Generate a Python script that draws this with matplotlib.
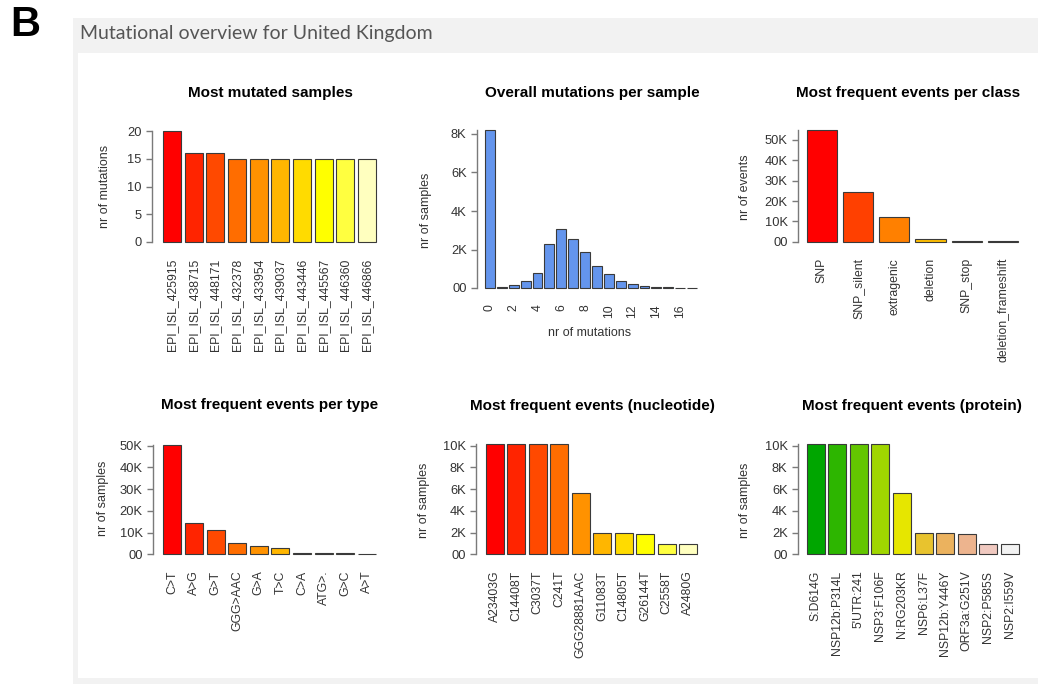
import matplotlib
matplotlib.use("Agg")
import matplotlib.pyplot as plt
from matplotlib.patches import Rectangle

# ---- data ----
sample_ids = ["EPI_ISL_425915", "EPI_ISL_438715", "EPI_ISL_448171", "EPI_ISL_432378",
              "EPI_ISL_433954", "EPI_ISL_439037", "EPI_ISL_443446", "EPI_ISL_445567",
              "EPI_ISL_446360", "EPI_ISL_446866"]
sample_mutations = [20, 16, 16, 15, 15, 15, 15, 15, 15, 15]

mutation_counts = list(range(18))
samples_per_count = [8210, 60, 150, 380, 780, 2280, 3080, 2560, 1850, 1150,
                     720, 340, 200, 100, 50, 30, 20, 15]

event_classes = ["SNP", "SNP_silent", "extragenic", "deletion", "SNP_stop",
                 "deletion_frameshift"]
class_counts = [55000, 24600, 12000, 1500, 400, 300]

event_types = ["C>T", "A>G", "G>T", "GGG>AAC", "G>A", "T>C", "C>A", "ATG>.", "G>C", "A>T"]
type_counts = [50500, 14200, 11200, 5300, 3800, 3000, 800, 700, 400, 350]

nucleotide_events = ["A23403G", "C14408T", "C3037T", "C241T", "GGG28881AAC",
                     "G11083T", "C14805T", "G26144T", "C2558T", "A2480G"]
nucleotide_counts = [10150, 10150, 10140, 10140, 5620, 2000, 1990, 1900, 950, 930]

protein_events = ["S:D614G", "NSP12b:P314L", "5'UTR:241", "NSP3:F106F", "N:RG203KR",
                  "NSP6:L37F", "NSP12b:Y446Y", "ORF3a:G251V", "NSP2:P585S", "NSP2:I559V"]
protein_counts = [10150, 10150, 10140, 10140, 5620, 2000, 1990, 1900, 950, 930]

# ---- palettes (R heat.colors / terrain.colors) ----
heat10 = ["#FF0000", "#FF2400", "#FF4900", "#FF6D00", "#FF9200", "#FFB600",
          "#FFDB00", "#FFFF00", "#FFFF40", "#FFFFBF"]
heat6 = ["#FF0000", "#FF4000", "#FF8000", "#FFBF00", "#FFFF00", "#FFFF80"]
terrain10 = ["#00A600", "#2DB600", "#63C600", "#A0D600", "#E6E600", "#E8C32E",
             "#EBB25E", "#EDB48E", "#F0C9C0", "#F2F2F2"]
hist_blue = "#6495ED"

W, H = 1038, 685
plt.rcParams["font.family"] = ["Liberation Sans", "DejaVu Sans"]
fig = plt.figure(figsize=(W / 100, H / 100), dpi=100)
fig.patch.set_facecolor("white")


def box(x0, y0, x1, y1, color):
    fig.add_artist(Rectangle((x0 / W, 1 - y1 / H), (x1 - x0) / W, (y1 - y0) / H,
                             transform=fig.transFigure, facecolor=color,
                             edgecolor="none", zorder=0))


def ftext(x, y, s, **kw):
    fig.text(x / W, 1 - y / H, s, **kw)


# page frame
box(73, 18, 1040, 684, "#f2f2f2")
box(78, 53, 1040, 678, "white")
ftext(10, 25, "B", fontsize=30, fontweight="bold", color="black",
      ha="left", va="center")
ftext(80, 33, "Mutational overview for United Kingdom", fontsize=14,
      family=["Lato", "DejaVu Sans"], color="#555555", ha="left", va="center")

AXIS_C = "#7a7a7a"
TEXT_C = "#333333"
EDGE_C = "#3a3a3a"


def panel(axis_x, bar_left, bar_right, y0, yref, yref_val, values, colors,
          names, yticks, ytlabels, title, title_xy, ylabel, ylabel_xy,
          label_every=1):
    n = len(values)
    span = 1.2 * n - 0.2
    sx = (bar_right - bar_left) / span
    sy = (y0 - yref) / yref_val
    right_px = bar_right + 12
    top_val = max(values)
    top_px = y0 - top_val * sy - 6
    bottom_px = y0 + 6
    ax = fig.add_axes([axis_x / W, 1 - bottom_px / H, (right_px - axis_x) / W,
                       (bottom_px - top_px) / H])
    ax.set_xlim(0.2 - (bar_left - axis_x) / sx, 1.2 * n + 12 / sx)
    ax.set_ylim(-6 / sy, top_val + 6 / sy)
    lefts = [0.2 + 1.2 * i for i in range(n)]
    ax.bar(lefts, values, width=1, align="edge", color=colors,
           edgecolor=EDGE_C, linewidth=0.8)
    for side in ("top", "right", "bottom"):
        ax.spines[side].set_visible(False)
    ax.spines["left"].set_color(AXIS_C)
    ax.spines["left"].set_linewidth(1.0)
    ax.spines["left"].set_bounds(0, top_val)
    ax.set_facecolor("none")
    ax.set_yticks(yticks)
    ax.set_yticklabels(ytlabels)
    ax.tick_params(axis="y", length=4.5, width=1.0, color=AXIS_C, labelsize=9.3,
                   labelcolor=TEXT_C, pad=3)
    idx = list(range(0, n, label_every))
    ax.set_xticks([lefts[i] + 0.5 for i in idx])
    ax.set_xticklabels([names[i] for i in idx], rotation=90)
    ax.tick_params(axis="x", length=0, labelsize=8.8, labelcolor=TEXT_C, pad=7.5)
    ftext(title_xy[0], title_xy[1], title, fontsize=11, fontweight="bold",
          color="black", ha="center", va="center")
    ftext(ylabel_xy[0], ylabel_xy[1], ylabel, fontsize=9, color=TEXT_C,
          rotation=90, ha="center", va="center")
    return ax


panel(152, 163, 376, 242, 131, 20, sample_mutations, heat10, sample_ids,
      [0, 5, 10, 15, 20], ["0", "5", "10", "15", "20"],
      "Most mutated samples", (270, 93), "nr of mutations", (105, 186))

panel(477, 485, 697, 288, 134, 8000, samples_per_count, hist_blue,
      [str(v) for v in mutation_counts],
      [0, 2000, 4000, 6000, 8000], ["00", "2K", "4K", "6K", "8K"],
      "Overall mutations per sample", (592, 93), "nr of samples", (426, 210),
      label_every=2)
ftext(590, 333, "nr of mutations", fontsize=9, color=TEXT_C,
      ha="center", va="center")

panel(798, 806.7, 1018, 241.7, 140, 50000, class_counts, heat6, event_classes,
      [0, 10000, 20000, 30000, 40000, 50000],
      ["00", "10K", "20K", "30K", "40K", "50K"],
      "Most frequent events per class", (908, 93), "nr of events", (745, 187))

panel(153, 163.3, 376, 554.3, 445.7, 50000, type_counts, heat10, event_types,
      [0, 10000, 20000, 30000, 40000, 50000],
      ["00", "10K", "20K", "30K", "40K", "50K"],
      "Most frequent events per type", (270, 405), "nr of samples", (103, 498))

panel(476, 485.7, 697.3, 554.3, 445.7, 10000, nucleotide_counts, heat10,
      nucleotide_events,
      [0, 2000, 4000, 6000, 8000, 10000], ["00", "2K", "4K", "6K", "8K", "10K"],
      "Most frequent events (nucleotide)", (592, 406), "nr of samples", (424, 500))

panel(798, 806.7, 1019, 554.3, 445.7, 10000, protein_counts, terrain10,
      protein_events,
      [0, 2000, 4000, 6000, 8000, 10000], ["00", "2K", "4K", "6K", "8K", "10K"],
      "Most frequent events (protein)", (912, 406), "nr of samples", (745, 500))

fig.savefig("out.png", dpi=100)
